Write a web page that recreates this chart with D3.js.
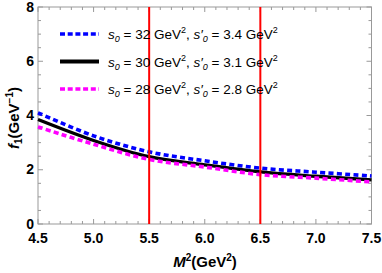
<!DOCTYPE html>
<html>
<head>
<meta charset="utf-8">
<script src="https://cdn.jsdelivr.net/npm/d3@7"></script>
<style>
  body { margin: 0; background: #fff; }
  svg { display: block; font-family: "Liberation Sans", Arial, sans-serif; }
</style>
</head>
<body>
<div id="chart"></div>
<script>
    // Borel mass values (GeV^2)
    var m2 = [4.5, 5.0, 5.5, 6.0, 6.5, 7.0, 7.5];
    // f1 for the three threshold choices
    var fHigh = [4.10, 3.25, 2.66, 2.33, 2.06, 1.91, 1.77];
    var fMid = [3.85, 3.08, 2.48, 2.18, 1.92, 1.76, 1.63];
    var fLow = [3.58, 2.94, 2.38, 2.10, 1.82, 1.69, 1.55];
    var s0Labels = ["32", "30", "28"];
    var s0pLabels = ["3.4", "3.1", "2.8"];
    var windowLines = [5.5, 6.5];
    var xTicks = [4.5, 5.0, 5.5, 6.0, 6.5, 7.0, 7.5];
    var yTicks = [0, 2, 4, 6, 8];

    var width = 382, height = 273;
    var margin = {top: 7, right: 10.5, bottom: 49, left: 38};

    var series = [
        {vals: fHigh, color: "#0000ff", dash: "5,3.3", w: 3.6},
        {vals: fMid, color: "#000000", dash: null, w: 3.3},
        {vals: fLow, color: "#ff00ff", dash: "5,3.3", w: 3.6}
    ];

    var svg = d3.select("#chart").append("svg")
        .attr("width", width)
        .attr("height", height);

    var x = d3.scaleLinear().domain([4.5, 7.5]).range([margin.left, width - margin.right]);
    var y = d3.scaleLinear().domain([0, 8]).range([height - margin.bottom, margin.top]);

    var frameColor = "#999";

    //ticks on all four sides, pointing inward
    var xMinor = d3.range(45, 76).map(function (d) { return d / 10; });
    var yMinor = d3.range(0, 17).map(function (d) { return d / 2; });

    var tickG = svg.append("g").attr("stroke", frameColor).attr("stroke-width", 1);
    xMinor.forEach(function (v) {
        var major = xTicks.some(function (t) { return Math.abs(t - v) < 1e-6; });
        var len = major ? 5 : 3;
        tickG.append("line").attr("x1", x(v)).attr("x2", x(v))
            .attr("y1", y(0)).attr("y2", y(0) - len);
        tickG.append("line").attr("x1", x(v)).attr("x2", x(v))
            .attr("y1", y(8)).attr("y2", y(8) + len);
    });
    yMinor.forEach(function (v) {
        var major = yTicks.indexOf(v) >= 0;
        var len = major ? 5 : 3;
        tickG.append("line").attr("x1", x(4.5)).attr("x2", x(4.5) + len)
            .attr("y1", y(v)).attr("y2", y(v));
        tickG.append("line").attr("x1", x(7.5)).attr("x2", x(7.5) - len)
            .attr("y1", y(v)).attr("y2", y(v));
    });

    svg.append("rect")
        .attr("x", x(4.5)).attr("y", y(8))
        .attr("width", x(7.5) - x(4.5)).attr("height", y(0) - y(8))
        .attr("fill", "none").attr("stroke", frameColor).attr("stroke-width", 1);

    //tick labels
    svg.selectAll("text.xlab").data(xTicks).enter().append("text")
        .attr("class", "xlab")
        .attr("x", function (d) { return x(d); })
        .attr("y", y(0) + 19)
        .attr("text-anchor", "middle")
        .attr("font-size", "14px").attr("font-weight", "bold")
        .text(function (d) { return d.toFixed(1); });

    svg.selectAll("text.ylab").data(yTicks).enter().append("text")
        .attr("class", "ylab")
        .attr("x", x(4.5) - 4)
        .attr("y", function (d) { return y(d) + 4.5; })
        .attr("text-anchor", "end")
        .attr("font-size", "14px").attr("font-weight", "bold")
        .text(function (d) { return d; });

    //axis titles
    var xt = svg.append("text")
        .attr("x", 205).attr("y", 267)
        .attr("text-anchor", "middle")
        .attr("font-size", "15px").attr("font-weight", "bold");
    xt.append("tspan").attr("font-style", "italic").text("M");
    xt.append("tspan").attr("font-size", "10px").attr("dy", "-6").text("2");
    xt.append("tspan").attr("dy", "6").text("(GeV");
    xt.append("tspan").attr("font-size", "10px").attr("dy", "-6").text("2");
    xt.append("tspan").attr("dy", "6").text(")");

    var yt = svg.append("text")
        .attr("transform", "translate(19,118) rotate(-90)")
        .attr("text-anchor", "middle")
        .attr("font-size", "15px").attr("font-weight", "bold");
    yt.append("tspan").attr("font-style", "italic").text("f");
    yt.append("tspan").attr("font-size", "10px").attr("dy", "3").text("1");
    yt.append("tspan").attr("dy", "-3").text("(GeV");
    yt.append("tspan").attr("font-size", "10px").attr("dy", "-6").text("\u22121");
    yt.append("tspan").attr("dy", "6").text(")");

    //curves
    var line = d3.line()
        .x(function (d, i) { return x(m2[i]); })
        .y(function (d) { return y(d); })
        .curve(d3.curveCatmullRom);

    var plot = svg.append("g");
    series.forEach(function (s) {
        plot.append("path")
            .datum(s.vals)
            .attr("d", line)
            .attr("fill", "none")
            .attr("stroke", s.color)
            .attr("stroke-width", s.w)
            .attr("stroke-dasharray", s.dash);
    });

    //Borel window
    svg.selectAll("line.win").data(windowLines).enter().append("line")
        .attr("class", "win")
        .attr("x1", function (d) { return x(d); })
        .attr("x2", function (d) { return x(d); })
        .attr("y1", y(8)).attr("y2", y(0))
        .attr("stroke", "#ff0000").attr("stroke-width", 2);

    //legend
    var legend = svg.append("g");
    series.forEach(function (s, i) {
        var ly = 34 + i * 27.5;
        legend.append("line")
            .attr("x1", 60).attr("x2", 99)
            .attr("y1", ly).attr("y2", ly)
            .attr("stroke", s.color)
            .attr("stroke-width", s.dash ? s.w : 4)
            .attr("stroke-dasharray", s.dash ? "5,2.7" : null);
        var t = legend.append("text")
            .attr("x", 108).attr("y", ly + 5)
            .attr("font-size", "13.5px");
        t.append("tspan").attr("font-style", "italic").text("s");
        t.append("tspan").attr("font-style", "italic").attr("font-size", "9px").attr("dy", "3").text("0");
        t.append("tspan").attr("dy", "-3").text(" = " + s0Labels[i] + " GeV");
        t.append("tspan").attr("font-size", "9px").attr("dy", "-6").text("2");
        t.append("tspan").attr("dy", "6").text(", ");
        t.append("tspan").attr("font-style", "italic").text("s\u2032");
        t.append("tspan").attr("font-style", "italic").attr("font-size", "9px").attr("dy", "3").text("0");
        t.append("tspan").attr("dy", "-3").text(" = " + s0pLabels[i] + " GeV");
        t.append("tspan").attr("font-size", "9px").attr("dy", "-6").text("2");
    });
</script>
</body>
</html>
